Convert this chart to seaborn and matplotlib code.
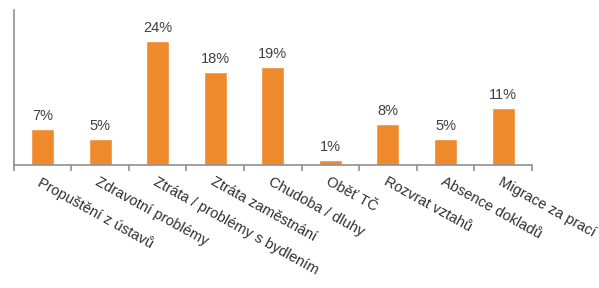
import matplotlib.pyplot as plt
import seaborn as sns
import numpy as np

categories = ["Propuštění z ústavů", "Zdravotní problémy", "Ztráta / problémy s bydlením",
              "Ztráta zaměstnání", "Chudoba / dluhy", "Oběť TČ", "Rozvrat vztahů",
              "Absence dokladů", "Migrace za prací"]
values = [7, 5, 24, 18, 19, 1, 8, 5, 11]

sns.set_style("white")
plt.rcParams["font.family"] = ["Liberation Sans", "DejaVu Sans"]

fig = plt.figure(figsize=(5.99, 2.88), dpi=100)
ax = fig.add_axes([0.023, 0.427, 0.865, 0.538])

sns.barplot(x=categories, y=values, color="#EE8A2C", saturation=1, width=0.4, ax=ax)

for i, v in enumerate(values):
    ax.text(i, v + 1.2, f"{v}%", ha="center", va="bottom", fontsize=10.5, color="#404040")

ax.set_ylim(0, 30)
ax.set_xlim(-0.5, len(values) - 0.5)
ax.set_yticks([])
ax.set_xticks(range(len(values)))
ax.set_xticklabels(categories, rotation=-29, ha="left", va="top",
                   rotation_mode="anchor", fontsize=10.5, color="#303030")
ax.set_xticks(np.arange(-0.5, len(values)), minor=True)
ax.tick_params(axis="x", which="major", bottom=False, length=0, pad=7)
ax.tick_params(axis="x", which="minor", bottom=True, length=4, width=1.2,
               color="#909090", direction="out")

for s in ["top", "right"]:
    ax.spines[s].set_visible(False)
for s in ["left", "bottom"]:
    ax.spines[s].set_color("#909090")
    ax.spines[s].set_linewidth(1.2)

fig.savefig("out.png", dpi=100)
